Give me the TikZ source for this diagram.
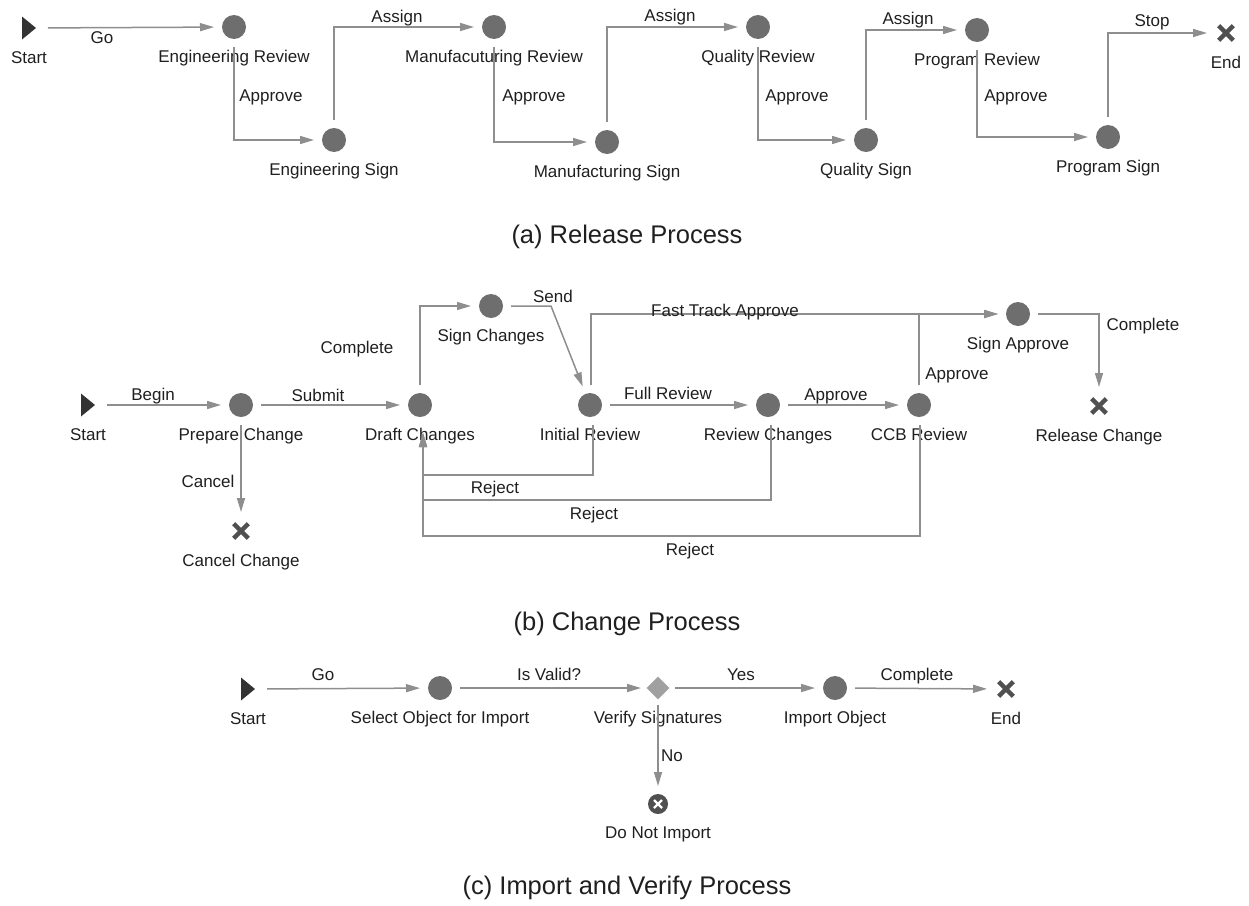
\documentclass[tikz,border=0pt]{standalone}
\usepackage{fontspec}
\setmainfont{Liberation Sans}
\usetikzlibrary{shapes.geometric,arrows.meta,positioning}
\definecolor{nodegray}{HTML}{6E6E6E}
\definecolor{linegray}{HTML}{8E8E8E}
\definecolor{endgray}{HTML}{505050}
\definecolor{startgray}{HTML}{333333}
\definecolor{diamgray}{HTML}{A0A0A0}
\tikzset{
    state/.style={
        circle, fill=nodegray, minimum size=24pt,
        inner sep=0pt, outer sep=8pt
    },
    startnode/.style={
        rectangle, minimum width=14pt, minimum height=23pt,
        inner sep=0pt, outer sep=12pt,
        path picture={
            \fill[startgray] (path picture bounding box.north west)
                -- (path picture bounding box.east)
                -- (path picture bounding box.south west) -- cycle;
        }
    },
    endnode/.style={
        rectangle, minimum size=20pt, inner sep=0pt, outer sep=9pt,
        path picture={
            \draw[endgray, line width=4.5pt]
                ([shift={(-7.3pt,-7.3pt)}]path picture bounding box.center)
                -- ([shift={(7.3pt,7.3pt)}]path picture bounding box.center)
                ([shift={(-7.3pt,7.3pt)}]path picture bounding box.center)
                -- ([shift={(7.3pt,-7.3pt)}]path picture bounding box.center);
        }
    },
    stopnode/.style={
        circle, fill=endgray, minimum size=20pt, inner sep=0pt, outer sep=8pt,
        path picture={
            \draw[white, line width=2.4pt]
                ([shift={(-4pt,-4pt)}]path picture bounding box.center)
                -- ([shift={(4pt,4pt)}]path picture bounding box.center)
                ([shift={(-4pt,4pt)}]path picture bounding box.center)
                -- ([shift={(4pt,-4pt)}]path picture bounding box.center);
        }
    },
    decision/.style={
        diamond, fill=diamgray, minimum width=26pt, minimum height=26pt,
        inner sep=0pt, outer sep=4pt
    },
    lbl/.style={
        font=\fontsize{17}{20}\selectfont, text=black!88,
        inner sep=0pt, text height=12.2pt, text depth=0pt
    },
    under/.style={lbl, yshift=-29pt},
    heading/.style={font=\fontsize{25.5}{30}\selectfont, text=black!88},
    arrow/.style={-{Triangle[length=14pt,width=8pt]}, draw=linegray, line width=1.5pt}
}
\begin{document}
\begin{tikzpicture}[x=1pt, y=-1pt]

\useasboundingbox (0,0) rectangle (1249,905);

%% (a) release process -- review / sign pairs zig-zag left to right
\node[startnode, label={[under]center:Start}]                (st1)      at (29,  28)  {};
\node[state,     label={[under]center:Engineering Review}]   (engrev)   at (234, 27)  {};
\node[state,     label={[under]center:Engineering Sign}]     (engsign)  at (334, 140) {};
\node[state,     label={[under]center:Manufacuturing Review}] (mfgrev)  at (494, 27)  {};
\node[state,     label={[under]center:Manufacturing Sign}]   (mfgsign)  at (607, 142) {};
\node[state,     label={[under]center:Quality Review}]       (qualrev)  at (758, 27)  {};
\node[state,     label={[under]center:Quality Sign}]         (qualsign) at (866, 140) {};
\node[state,     label={[under]center:Program Review}]       (progrev)  at (977, 30)  {};
\node[state,     label={[under]center:Program Sign}]         (progsign) at (1108,137) {};
\node[endnode,   label={[under]center:End}]                  (end1)     at (1226,33)  {};

\draw[arrow] (st1) -- (engrev) node[lbl] at (102,37) {Go};
\draw[arrow] (engrev.south) |- (engsign.west) node[lbl] at (271,95) {Approve};
\draw[arrow] (engsign.north) |- (mfgrev.west) node[lbl] at (397,16) {Assign};
\draw[arrow] (mfgrev.south) |- (mfgsign.west) node[lbl] at (534,95) {Approve};
\draw[arrow] (mfgsign.north) |- (qualrev.west) node[lbl] at (670,15) {Assign};
\draw[arrow] (qualrev.south) |- (qualsign.west) node[lbl] at (797,95) {Approve};
\draw[arrow] (qualsign.north) |- (progrev.west) node[lbl] at (908,18) {Assign};
\draw[arrow] (progrev.south) |- (progsign.west) node[lbl] at (1016,95) {Approve};
\draw[arrow] (progsign.north) |- (end1.west) node[lbl] at (1152,20) {Stop};

\node[heading] (capa) at (627,237) {(a) Release Process};

%% (b) change process -- main row y=405, sign steps above, rejects below
\node[startnode, label={[under]center:Start}]           (st2)      at (88,  405) {};
\node[state,     label={[under]center:Prepare Change}]  (prep)     at (241, 405) {};
\node[state,     label={[under]center:Draft Changes}]   (draft)    at (420, 405) {};
\node[endnode,   label={[under]center:Cancel Change}]   (cancel)   at (241, 531) {};
\node[state,     label={[under]center:Sign Changes}]    (signch)   at (491, 306) {};
\node[state,     label={[under]center:Initial Review}]  (initrev)  at (590, 405) {};
\node[state,     label={[under]center:Review Changes}]  (revch)    at (768, 405) {};
\node[state,     label={[under]center:CCB Review}]      (ccb)      at (919, 405) {};
\node[state,     label={[under]center:Sign Approve}]    (signappr) at (1018,314) {};
\node[endnode,   label={[under]center:Release Change}]  (release)  at (1099,406) {};

\draw[arrow] (st2) -- (prep) node[lbl] at (153,394) {Begin};
\draw[arrow] (prep) -- (draft) node[lbl] at (318,395) {Submit};
\draw[arrow] (prep) -- (cancel) node[lbl] at (208,481) {Cancel};
\draw[arrow] (draft.north) |- (signch.west) node[lbl] at (357,347) {Complete};
\draw[arrow] (signch.east) -- ++(40,0) -- (initrev) node[lbl] at (553,296) {Send};
\draw[arrow] ([xshift=1pt]initrev.north) |- (signappr.west) node[lbl] at (725,310) {Fast Track Approve};
\draw[arrow] (initrev) -- (revch) node[lbl] at (668,393) {Full Review};
\draw[arrow] (revch) -- (ccb) node[lbl] at (836,394) {Approve};
\draw[arrow] (ccb.north) |- (signappr.west) node[lbl] at (957,373) {Approve};
\draw[arrow] (signappr.east) -| (release.north) node[lbl] at (1143,324) {Complete};

%% rejects all run back into Draft Changes from below
\draw[arrow] ([xshift=3pt]initrev.south) -- ++(0,50) -| ([xshift=3pt,yshift=-8pt]draft.south)
    node[lbl] at (495,487) {Reject};
\draw[arrow] ([xshift=3pt]revch.south) -- ++(0,75) -| ([xshift=3pt,yshift=-8pt]draft.south)
    node[lbl] at (594,513) {Reject};
\draw[arrow] ([xshift=1pt]ccb.south) -- ++(0,111) -| ([xshift=3pt,yshift=-8pt]draft.south)
    node[lbl] at (690,549) {Reject};

\node[heading] (capb) at (627,624) {(b) Change Process};

%% (c) import and verify process
\node[startnode, label={[under]center:Start}]                   (st3)      at (248, 689) {};
\node[state,     label={[under]center:Select Object for Import}] (selobj)  at (440, 688) {};
\node[decision,  label={[under]center:Verify Signatures}]       (verify)   at (658, 688) {};
\node[state,     label={[under]center:Import Object}]           (import)   at (835, 688) {};
\node[endnode,   label={[under]center:End}]                     (end3)     at (1006,689) {};
\node[stopnode,  label={[under,yshift=1pt]center:Do Not Import}] (noimport) at (658, 804) {};

\draw[arrow] (st3) -- (selobj) node[lbl] at (323,674) {Go};
\draw[arrow] (selobj) -- (verify) node[lbl] at (549,674) {Is Valid?};
\draw[arrow] (verify) -- (import) node[lbl] at (741,674) {Yes};
\draw[arrow] (import) -- (end3) node[lbl] at (917,674) {Complete};
\draw[arrow] (verify) -- (noimport) node[lbl] at (672,755) {No};

\node[heading] (capc) at (627,888) {(c) Import and Verify Process};

\end{tikzpicture}
\end{document}
